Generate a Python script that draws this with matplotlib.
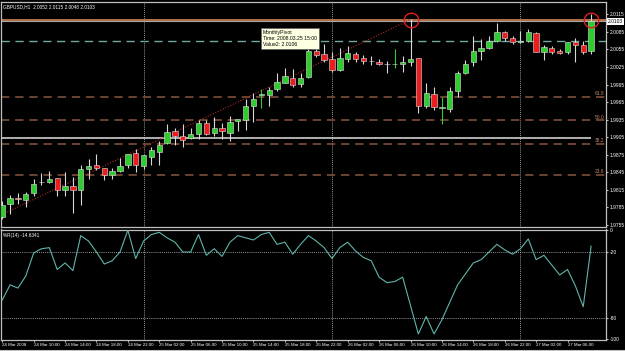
import matplotlib
matplotlib.use('Agg')
import matplotlib.pyplot as plt
import numpy as np
import pandas as pd

plt.rcParams['font.family'] = ['Liberation Sans', 'DejaVu Sans']

# GBPUSD H1, 24 Mar 2008 06:00 -> 27 Mar 2008 09:00
opens = [1.9769, 1.9791, 1.9801, 1.9798, 1.9809, 1.9829, 1.9828, 1.9835, 1.9814, 1.9821,
         1.9815, 1.9851, 1.9857, 1.9852, 1.9840, 1.9848, 1.9857, 1.9878, 1.9855, 1.9872,
         1.9880, 1.9895, 1.9915, 1.9907, 1.9903, 1.9911, 1.9930, 1.9912, 1.9921, 1.9913,
         1.9932, 1.9935, 1.9958, 1.9977, 1.9977, 1.9988, 1.9998, 2.0007, 1.9996, 2.0008,
         2.0053, 2.0047, 2.0038, 2.0020, 2.0038, 2.0047, 2.0040, 2.0035, 2.0034, 2.0030,
         2.0030, 2.0030, 2.0033, 2.0040, 1.9958, 1.9979, 1.9955, 1.9954, 1.9984, 2.0014,
         2.0033, 2.0053, 2.0057, 2.0070, 2.0084, 2.0074, 2.0067, 2.0070, 2.0083, 2.0050,
         2.0058, 2.0053, 2.0050, 2.0067, 2.0062, 2.0052]
highs = [1.9796, 1.9806, 1.9809, 1.9812, 1.9834, 1.9844, 1.9848, 1.9836, 1.9845, 1.9837,
         1.9857, 1.9868, 1.9876, 1.9853, 1.9852, 1.9869, 1.9877, 1.9885, 1.9874, 1.9889,
         1.9898, 1.9928, 1.9920, 1.9927, 1.9921, 1.9934, 1.9934, 1.9939, 1.9930, 1.9942,
         1.9937, 1.9970, 1.9980, 1.9987, 1.9991, 2.0014, 2.0023, 2.0022, 2.0014, 2.0055,
         2.0064, 2.0064, 2.0050, 2.0058, 2.0061, 2.0050, 2.0045, 2.0043, 2.0038, 2.0035,
         2.0055, 2.0044, 2.0107, 2.0041, 1.9997, 1.9991, 1.9973, 1.9991, 2.0018, 2.0037,
         2.0078, 2.0073, 2.0078, 2.0100, 2.0087, 2.0078, 2.0087, 2.0090, 2.0084, 2.0062,
         2.0061, 2.0055, 2.0068, 2.0074, 2.0070, 2.0115]
lows = [1.9765, 1.9774, 1.9791, 1.9785, 1.9804, 1.9824, 1.9827, 1.9805, 1.9805, 1.9776,
        1.9789, 1.9834, 1.9849, 1.9832, 1.9834, 1.9846, 1.9852, 1.9846, 1.9850, 1.9857,
        1.9858, 1.9894, 1.9892, 1.9889, 1.9902, 1.9902, 1.9908, 1.9907, 1.9902, 1.9898,
        1.9915, 1.9917, 1.9931, 1.9955, 1.9958, 1.9984, 1.9998, 1.9991, 1.9991, 2.0007,
        2.0042, 2.0033, 2.0016, 2.0018, 2.0033, 2.0033, 2.0031, 2.0028, 2.0028, 2.0014,
        2.0024, 2.0016, 2.0027, 1.9947, 1.9955, 1.9952, 1.9927, 1.9948, 1.9974, 2.0013,
        2.0027, 2.0037, 2.0055, 2.0068, 2.0070, 2.0064, 2.0066, 2.0068, 2.0050, 2.0037,
        2.0047, 2.0047, 2.0047, 2.0033, 2.0047, 2.0048]
closes = [1.9789, 1.9802, 1.9799, 1.9808, 1.9825, 1.9828, 1.9834, 1.9815, 1.9821, 1.9814,
          1.9851, 1.9856, 1.9852, 1.9841, 1.9848, 1.9856, 1.9877, 1.9857, 1.9874, 1.9883,
          1.9892, 1.9914, 1.9907, 1.9901, 1.9910, 1.9930, 1.9911, 1.9921, 1.9916, 1.9931,
          1.9937, 1.9959, 1.9971, 1.9979, 1.9986, 1.9999, 2.0009, 1.9994, 2.0007, 2.0052,
          2.0045, 2.0037, 2.0020, 2.0040, 2.0049, 2.0038, 2.0035, 2.0035, 2.0030, 2.0030,
          2.0031, 2.0034, 2.0038, 1.9959, 1.9981, 1.9957, 1.9956, 1.9984, 2.0015, 2.0031,
          2.0052, 2.0057, 2.0070, 2.0084, 2.0074, 2.0068, 2.0070, 2.0084, 2.0051, 2.0059,
          2.0050, 2.0049, 2.0067, 2.0062, 2.0051, 2.0103]

# Williams %R(14)
wpr = [-64, -50, -53, -42, -21, -17, -16, -36, -30, -37,
       -5, -10, -20, -31, -28, -20, 0, -26, -10, -4,
       -2, -7, -11, -20, -20, -4, -23, -17, -24, -11,
       -5, -7, -9, -4, -2, -13, -11, -22, -13, -5,
       -10, -16, -26, -16, -11, -19, -25, -28, -43, -48,
       -47, -43, -69, -95, -79, -95, -82, -66, -50, -40,
       -30, -27, -20, -13, -18, -22, -17, -8, -27, -23,
       -32, -41, -36, -51, -70, -14.6341]

price_ticks = [2.0115, 2.0085, 2.0055, 2.0025, 1.9995, 1.9965, 1.9935,
               1.9905, 1.9875, 1.9845, 1.9815, 1.9785, 1.9755]
wpr_ticks = [0, -20, -80, -100]

monthly_pivot = 2.0106
bid = 2.0103
teal_level = 2.0070
white_level = 1.9903
fib_levels = [1.9974, 1.9934, 1.9894, 1.9841]
fib_labels = ['61.8', '50.0', '38.2', '23.6']
trend_x = [0, 52]
trend_y = [1.9773, 2.0106]
circle_x = [52, 75]
circle_y = [2.0106, 2.0106]
day_breaks = [18, 42, 66]

times = pd.date_range('2008-03-24 06:00', periods=len(opens), freq='h')

W, H = 625, 351
fig = plt.figure(figsize=(W / 100, H / 100), dpi=100, facecolor='black')


def px_axes(x0, y0, x1, y1):
    return fig.add_axes([x0 / W, 1 - y1 / H, (x1 - x0) / W, (y1 - y0) / H])


ax = px_axes(0.5, 2, 606, 227)
ax2 = px_axes(0.5, 229.5, 606, 340)

frame = '#bfbfbf'
green = '#2ecc2e'
red = '#ee1c1c'

o = np.array(opens)
h = np.array(highs)
l = np.array(lows)
c = np.array(closes)
x = np.arange(len(o))

body_col = np.where(c > o, green, np.where(c < o, red, 'white'))
wick_col = np.where((c > o) & (c - o <= 0.0002), green, '#d8d8d8')
body_h = np.maximum(np.abs(c - o), 0.00005)

for a in (ax, ax2):
    a.set_facecolor('black')
    for s in a.spines.values():
        s.set_color(frame)
        s.set_linewidth(0.9)
    a.set_xlim(-0.22, 76.9)
    for d in day_breaks:
        a.axvline(d, color='#d0d0d0', lw=0.6, ls=(0, (1, 1.5)), zorder=1)

# ---- price window
ax.set_ylim(1.97516, 2.01361)
ax.axhline(monthly_pivot, color='#c47a4c', lw=1.3, zorder=2)
ax.axhline(bid, color='#a8a8a8', lw=0.8, zorder=2)
ax.axhline(teal_level, color='#6fa89f', lw=1.0, ls=(0, (6, 4)), zorder=2)
ax.hlines(white_level, -0.22, 75, color='#cfcfcf', lw=1.2, zorder=2)
ytr = ax.get_yaxis_transform()
for lv, lb in zip(fib_levels, fib_labels):
    ax.axhline(lv, color='#7e5038', lw=1.2, ls=(0, (5, 3.5)), zorder=2)
    ax.text(0.998, lv + 0.0001, lb, transform=ytr, ha='right', va='bottom',
            fontsize=3.5, color='#c08a68')

ax.plot(trend_x, trend_y, color='#b02a2a', lw=0.8, ls=(0, (1, 1.5)), zorder=2)

ax.vlines(x, l, h, colors=wick_col, lw=0.8, zorder=3)
ax.bar(x, body_h, bottom=np.minimum(o, c), width=0.68, color=body_col,
       edgecolor='#e0e0e0', linewidth=0.4, zorder=4)

ax.plot(circle_x, circle_y, 'o', ms=10.5, mfc='none', mec='#e02020', mew=1.0, zorder=6)

ax.yaxis.tick_right()
ax.set_yticks(price_ticks)
ax.set_yticklabels([f'{p:.4f}' for p in price_ticks])
ax.tick_params(axis='y', length=1.5, pad=1, labelsize=3.5, labelcolor='white', color=frame)
ax.tick_params(axis='x', bottom=False, labelbottom=False)
ax.text(1.003, bid, f'{bid:.4f}', transform=ytr, ha='left', va='center', fontsize=3.5,
        color='black', bbox=dict(boxstyle='square,pad=0.15', fc='white', ec='none'),
        clip_on=False, zorder=8)

ax.text(0.004, 0.992, 'GBPUSD,H1  2.0052 2.0115 2.0048 2.0103', transform=ax.transAxes,
        ha='left', va='top', fontsize=3.4, color='white')

ax.text(33.2, 2.0088, 'MonthlyPivot\nTime: 2008.03.25 15:00\nValue2: 2.0106',
        ha='left', va='top', fontsize=3.7, color='black', linespacing=1.25,
        bbox=dict(boxstyle='square,pad=0.35', fc='#ffffe1', ec='#606060', lw=0.5), zorder=9)

# ---- %R window
ax2.set_ylim(-100.5, 0.6)
ax2.axhline(-20, color='#c8c8c8', lw=0.6, ls=(0, (1, 1.5)))
ax2.axhline(-80, color='#c8c8c8', lw=0.6, ls=(0, (1, 1.5)))
ax2.plot(x, wpr, color='#5fb5ad', lw=0.8, zorder=3)
ax2.text(0.004, 0.965, '%R(14) -14.6341', transform=ax2.transAxes, ha='left', va='top',
         fontsize=3.4, color='white')

ax2.yaxis.tick_right()
ax2.set_yticks(wpr_ticks)
ax2.set_yticklabels([str(v) for v in wpr_ticks])
ax2.tick_params(axis='y', length=1.5, pad=1, labelsize=3.5, labelcolor='white', color=frame)

lab_idx = list(range(0, len(times), 4))
lab_txt = ['24 Mar 2008' if i == 0 else times[i].strftime('%d Mar %H:%M') for i in lab_idx]
ax2.set_xticks(lab_idx)
ax2.set_xticklabels(lab_txt, ha='left')
ax2.tick_params(axis='x', length=1.5, pad=0.8, labelsize=3.2, labelcolor='white', color=frame)

fig.add_artist(plt.Line2D([0, 1], [1 - 349.5 / H] * 2, transform=fig.transFigure,
                          color=frame, lw=0.8))

fig.savefig('out.png', dpi=100, facecolor='black')
